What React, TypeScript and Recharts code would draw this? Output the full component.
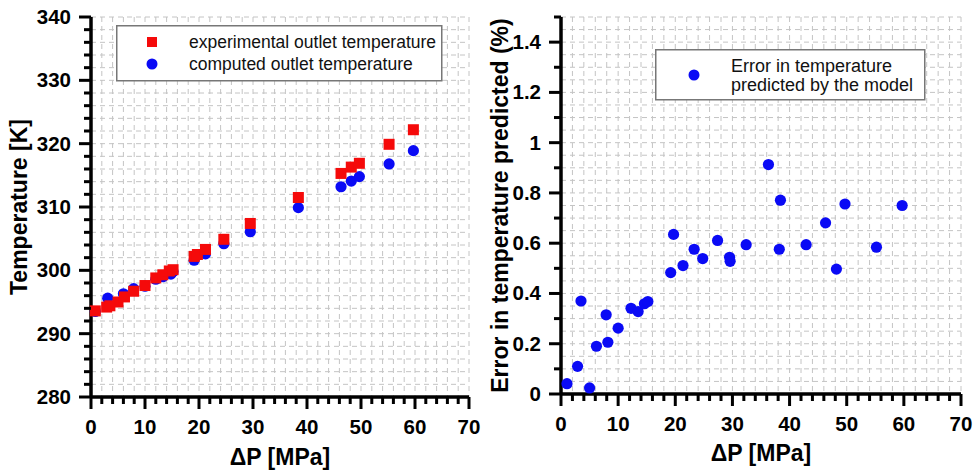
import React from "react";
import {
  CartesianGrid,
  Legend,
  Scatter,
  ScatterChart,
  XAxis,
  YAxis,
} from "recharts";

// Left panel: outlet temperature vs pressure drop
const expPressure = [0.8, 2.9, 3.5, 5.0, 6.2, 7.9, 10.0, 12.0, 13.3, 14.5, 15.2, 19.1, 19.7, 21.2, 24.6, 29.5, 38.4, 46.3, 48.2, 49.7, 55.2, 59.7];
const expTemp = [293.6, 294.2, 294.4, 295.0, 295.8, 296.7, 297.6, 298.8, 299.3, 299.9, 300.1, 302.2, 302.5, 303.3, 304.9, 307.4, 311.5, 315.3, 316.3, 316.9, 319.9, 322.2];

const compPressure = [0.8, 3.1, 6.0, 7.9, 10.0, 12.0, 13.3, 14.8, 15.2, 19.1, 21.2, 24.6, 29.5, 38.4, 46.3, 48.2, 49.7, 55.2, 59.7];
const compTemp = [293.5, 295.6, 296.3, 297.1, 297.5, 298.6, 299.0, 299.4, 299.8, 301.6, 302.6, 304.2, 306.1, 309.9, 313.2, 314.1, 314.8, 316.8, 318.9];

// Right panel: prediction error (%)
const errPressure = [1.05, 2.9, 3.5, 5.0, 6.2, 7.9, 8.2, 10.0, 12.25, 13.5, 14.6, 15.2, 19.2, 19.7, 21.35, 23.3, 24.8, 27.4, 29.5, 29.6, 32.4, 36.3, 38.2, 38.4, 42.9, 46.3, 48.2, 49.7, 55.2, 59.7];
const errValue = [0.041, 0.11, 0.37, 0.024, 0.19, 0.315, 0.206, 0.262, 0.341, 0.328, 0.359, 0.368, 0.483, 0.635, 0.511, 0.576, 0.539, 0.611, 0.544, 0.528, 0.594, 0.913, 0.576, 0.771, 0.594, 0.681, 0.497, 0.756, 0.584, 0.75];

// Axis ticks (every minor step; majors get labels)
const pressureTicks = Array.from({ length: 36 }, (_, i) => i * 2);
const tempTicks = Array.from({ length: 31 }, (_, i) => 280 + i * 2);
const errTicks = Array.from({ length: 31 }, (_, i) => +(i * 0.05).toFixed(2));

const RED = "#f50a0a";
const BLUE = "#0a0af5";
const FONT = "'Liberation Sans', Arial, sans-serif";

const expData = expPressure.map((x, i) => ({ x, y: expTemp[i] }));
const compData = compPressure.map((x, i) => ({ x, y: compTemp[i] }));
const errData = errPressure.map((x, i) => ({ x, y: errValue[i] }));

const tickText = { fontFamily: FONT, fontSize: 20.5, fontWeight: 700, fill: "#000" };
const titleText = { fontFamily: FONT, fontSize: 23, fontWeight: 700, fill: "#000" };

const PressureTick = (props: any) => {
  const { x, y, payload } = props;
  const v = payload.value;
  const major = v % 10 === 0;
  return (
    <g>
      <line x1={x} y1={y} x2={x} y2={y + (major ? 12 : 7)} stroke="#000" strokeWidth={3} />
      {major && (
        <text x={x} y={y + 37} textAnchor="middle" {...tickText}>
          {v}
        </text>
      )}
    </g>
  );
};

const TempTick = (props: any) => {
  const { x, y, payload } = props;
  const v = payload.value;
  const major = v % 10 === 0;
  return (
    <g>
      <line x1={x} y1={y} x2={x - (major ? 12 : 7)} y2={y} stroke="#000" strokeWidth={3} />
      {major && (
        <text x={x - 20} y={y + 7} textAnchor="end" {...tickText}>
          {v}
        </text>
      )}
    </g>
  );
};

const ErrTick = (props: any) => {
  const { x, y, payload } = props;
  const v = payload.value;
  const hundredths = Math.round(v * 100);
  if (hundredths % 10 !== 0) return <g />;
  const major = hundredths % 20 === 0;
  const label = v === 0 ? "0" : v === 1 ? "1" : v.toFixed(1);
  return (
    <g>
      <line x1={x} y1={y} x2={x - (major ? 12 : 7)} y2={y} stroke="#000" strokeWidth={3} />
      {major && (
        <text x={x - 20} y={y + 7} textAnchor="end" {...tickText}>
          {label}
        </text>
      )}
    </g>
  );
};

const xTitle = (dy: number) => (props: any) => {
  const vb = props.viewBox || {};
  return (
    <text x={vb.x + vb.width / 2} y={vb.y + dy} textAnchor="middle" {...titleText}>
      ΔP [MPa]
    </text>
  );
};

const yTitle = (text: string, bx: number) => (props: any) => {
  const vb = props.viewBox || {};
  const cy = vb.y + vb.height / 2;
  return (
    <text x={bx} y={cy} textAnchor="middle" transform={`rotate(-90 ${bx} ${cy})`} {...titleText}>
      {text}
    </text>
  );
};

const square = (p: any) => <rect x={p.cx - 5.5} y={p.cy - 5.5} width={11} height={11} fill={RED} />;
const dot = (p: any) => <circle cx={p.cx} cy={p.cy} r={5.6} fill={BLUE} />;

const TempLegend = () => (
  <svg width={327} height={57} style={{ display: "block" }}>
    <rect x={0.75} y={0.75} width={325} height={55} fill="#fff" stroke="#777" strokeWidth={1.5} />
    <rect x={31} y={12} width={10} height={10} fill={RED} />
    <circle cx={36} cy={39} r={5.5} fill={BLUE} />
    <text x={73} y={23} fontFamily={FONT} fontSize={17.5} fill="#111">
      experimental outlet temperature
    </text>
    <text x={73} y={45} fontFamily={FONT} fontSize={17.5} fill="#111">
      computed outlet temperature
    </text>
  </svg>
);

const ErrLegend = () => (
  <svg width={271} height={52} style={{ display: "block" }}>
    <rect x={0.75} y={0.75} width={269} height={50} fill="#fff" stroke="#777" strokeWidth={1.5} />
    <circle cx={39} cy={26} r={5.5} fill={BLUE} />
    <text x={76} y={23} fontFamily={FONT} fontSize={18} fill="#111">
      Error in temperature
    </text>
    <text x={76} y={42} fontFamily={FONT} fontSize={18} fill="#111">
      predicted by the model
    </text>
  </svg>
);

export default function App() {
  return (
    <div style={{ position: "absolute", left: 0, top: 0, width: 974, height: 470, background: "#fff" }}>
      <div style={{ position: "absolute", left: 0, top: 0 }}>
        <ScatterChart width={487} height={470} margin={{ top: 17, right: 18, bottom: 0, left: 0 }}>
          <CartesianGrid stroke="#c4c4c4" strokeDasharray="5 4" />
          <XAxis
            type="number"
            dataKey="x"
            domain={[0, 70]}
            ticks={pressureTicks}
            interval={0}
            height={73}
            tickSize={0}
            tickMargin={0}
            tickLine={false}
            tick={<PressureTick />}
            axisLine={{ stroke: "#000", strokeWidth: 3.5 }}
            label={xTitle(68)}
          />
          <YAxis
            type="number"
            dataKey="y"
            domain={[280, 340]}
            ticks={tempTicks}
            interval={0}
            width={91}
            tickSize={0}
            tickMargin={0}
            tickLine={false}
            tick={<TempTick />}
            axisLine={{ stroke: "#000", strokeWidth: 3.5 }}
            label={yTitle("Temperature [K]", 27)}
          />
          <Legend
            layout="vertical"
            align="center"
            verticalAlign="middle"
            content={() => <TempLegend />}
            wrapperStyle={{ left: 116, top: 25, width: 327, height: 57 }}
          />
          <Scatter name="computed outlet temperature" data={compData} shape={dot} isAnimationActive={false} />
          <Scatter name="experimental outlet temperature" data={expData} shape={square} isAnimationActive={false} />
        </ScatterChart>
      </div>
      <div style={{ position: "absolute", left: 487, top: 0 }}>
        <ScatterChart width={487} height={470} margin={{ top: 17, right: 13, bottom: 0, left: 0 }}>
          <CartesianGrid stroke="#c4c4c4" strokeDasharray="5 4" />
          <XAxis
            type="number"
            dataKey="x"
            domain={[0, 70]}
            ticks={pressureTicks}
            interval={0}
            height={76}
            tickSize={0}
            tickMargin={0}
            tickLine={false}
            tick={<PressureTick />}
            axisLine={{ stroke: "#000", strokeWidth: 3.5 }}
            label={xTitle(67)}
          />
          <YAxis
            type="number"
            dataKey="y"
            domain={[0, 1.5]}
            ticks={errTicks}
            interval={0}
            width={74}
            tickSize={0}
            tickMargin={0}
            tickLine={false}
            tick={<ErrTick />}
            axisLine={{ stroke: "#000", strokeWidth: 3.5 }}
            label={yTitle("Error in temperature predicted (%)", 21)}
          />
          <Legend
            layout="vertical"
            align="center"
            verticalAlign="middle"
            content={() => <ErrLegend />}
            wrapperStyle={{ left: 168, top: 49, width: 271, height: 52 }}
          />
          <Scatter name="Error in temperature predicted by the model" data={errData} shape={dot} isAnimationActive={false} />
        </ScatterChart>
      </div>
    </div>
  );
}
